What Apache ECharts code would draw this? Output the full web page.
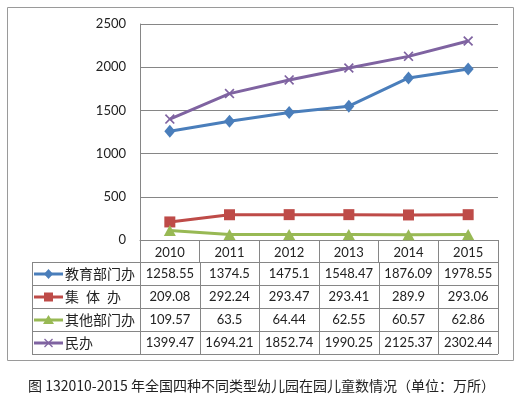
<!DOCTYPE html>
<html>
<head>
<meta charset="utf-8">
<script src="https://cdn.jsdelivr.net/npm/echarts@6/dist/echarts.min.js"></script>
<style>
  html, body { margin: 0; padding: 0; background: #fff; }
  #main { width: 523px; height: 396px; }
</style>
</head>
<body>
<div id="main"></div>
<script>
// 数据
var years = ['2010', '2011', '2012', '2013', '2014', '2015'];
var seriesNames = ['教育部门办', '集\u2002体\u2002办', '其他部门办', '民办'];
var eduData = [1258.55, 1374.5, 1475.1, 1548.47, 1876.09, 1978.55];
var collectiveData = [209.08, 292.24, 293.47, 293.41, 289.9, 293.06];
var otherData = [109.57, 63.5, 64.44, 62.55, 60.57, 62.86];
var privateData = [1399.47, 1694.21, 1852.74, 1990.25, 2125.37, 2302.44];
var yMax = 2500;
var yStep = 500;
var caption = '图 132010-2015 年全国四种不同类型幼儿园在园儿童数情况（单位：万所）';

var colors = ['#4A7EBB', '#BE4B48', '#98B954', '#7F63A1'];
var allData = [eduData, collectiveData, otherData, privateData];
var crossPath = 'path://M0,1.2L1.2,0L5,3.8L8.8,0L10,1.2L6.2,5L10,8.8L8.8,10L5,6.2L1.2,10L0,8.8L3.8,5Z';
var symbols = ['diamond', 'rect', 'triangle', crossPath];
var symbolSizes = [[11, 13], 11, [12, 11], 10];

// 版面
var gridL = 140, gridR = 498, gridT = 24, gridB = 240;
var tableL = 32, rowTop = 262, rowH = 23;
var lineCol = '#868686';
var fontNum = '13px Lato, "Noto Sans CJK SC", sans-serif';
var fontCn = '14px "Noto Sans CJK SC", sans-serif';

var myChart = echarts.init(document.getElementById('main'));

var graphics = [];
// 外框
graphics.push({type: 'rect', shape: {x: 7.5, y: 7.5, width: 506, height: 353},
  style: {fill: 'none', stroke: '#9a9a9a', lineWidth: 1}, silent: true});

var colW = (gridR - gridL) / years.length;
var tableB = rowTop + rowH * seriesNames.length;
// 横线
for (var r = 0; r <= seriesNames.length; r++) {
  var y = rowTop + r * rowH + 0.5;
  graphics.push({type: 'line', shape: {x1: tableL, y1: y, x2: gridR, y2: y},
    style: {stroke: lineCol, lineWidth: 1}, silent: true});
}
// 竖线
graphics.push({type: 'line', shape: {x1: tableL + 0.5, y1: rowTop, x2: tableL + 0.5, y2: tableB},
  style: {stroke: lineCol, lineWidth: 1}, silent: true});
for (var c = 0; c <= years.length; c++) {
  var x = Math.round(gridL + c * colW) + 0.5;
  graphics.push({type: 'line', shape: {x1: x, y1: rowTop, x2: x, y2: tableB},
    style: {stroke: lineCol, lineWidth: 1}, silent: true});
}
// 表格内容
for (var i = 0; i < seriesNames.length; i++) {
  var cy = rowTop + i * rowH + rowH / 2 + 0.5;
  var col = colors[i];
  graphics.push({type: 'line', shape: {x1: 34, y1: cy, x2: 63, y2: cy},
    style: {stroke: col, lineWidth: 3}, silent: true});
  var mx = 48.5;
  if (i === 0) {
    graphics.push({type: 'polygon', shape: {points: [[mx, cy - 5], [mx + 4.5, cy], [mx, cy + 5], [mx - 4.5, cy]]},
      style: {fill: col}, silent: true});
  } else if (i === 1) {
    graphics.push({type: 'rect', shape: {x: mx - 4.5, y: cy - 4.5, width: 9, height: 9},
      style: {fill: col}, silent: true});
  } else if (i === 2) {
    graphics.push({type: 'polygon', shape: {points: [[mx, cy - 5], [mx + 5.5, cy + 4], [mx - 5.5, cy + 4]]},
      style: {fill: col}, silent: true});
  } else {
    graphics.push({type: 'line', shape: {x1: mx - 4, y1: cy - 4, x2: mx + 4, y2: cy + 4},
      style: {stroke: col, lineWidth: 1.3}, silent: true});
    graphics.push({type: 'line', shape: {x1: mx + 4, y1: cy - 4, x2: mx - 4, y2: cy + 4},
      style: {stroke: col, lineWidth: 1.3}, silent: true});
  }
  graphics.push({type: 'text', style: {text: seriesNames[i], x: 65, y: cy,
    textAlign: 'left', textVerticalAlign: 'middle', font: fontCn, fill: '#222'}, silent: true});
  for (var j = 0; j < years.length; j++) {
    graphics.push({type: 'text', style: {text: String(allData[i][j]),
      x: gridL + (j + 0.5) * colW, y: cy,
      textAlign: 'center', textVerticalAlign: 'middle', font: fontNum, fill: '#222'}, silent: true});
  }
}

var series = [];
for (var k = 0; k < seriesNames.length; k++) {
  series.push({
    name: seriesNames[k],
    type: 'line',
    data: allData[k],
    symbol: symbols[k],
    symbolSize: symbolSizes[k],
    showAllSymbol: true,
    lineStyle: {color: colors[k], width: 3},
    itemStyle: {color: colors[k]},
    z: k === 2 ? 3 : 2,
    animation: false
  });
}

myChart.setOption({
  animation: false,
  title: {
    text: caption,
    left: 'center',
    top: 374,
    textStyle: {fontFamily: '"Noto Sans CJK SC", sans-serif', fontSize: 14, fontWeight: 'normal', color: '#222'}
  },
  grid: {left: gridL, right: 523 - gridR, top: gridT, bottom: 396 - gridB},
  xAxis: {
    type: 'category',
    data: years,
    boundaryGap: true,
    axisLine: {lineStyle: {color: lineCol, width: 1}},
    axisTick: {show: true, length: 22, lineStyle: {color: lineCol}},
    axisLabel: {margin: 6, fontSize: 13, fontFamily: 'Lato, sans-serif', color: '#222'},
    splitLine: {show: false}
  },
  yAxis: {
    type: 'value',
    min: 0,
    max: yMax,
    interval: yStep,
    axisLine: {show: true, lineStyle: {color: lineCol, width: 1}},
    axisTick: {show: false},
    axisLabel: {margin: 14, fontSize: 13, fontFamily: 'Lato, sans-serif', color: '#222',
      formatter: function (v) { return String(v); }},
    splitLine: {lineStyle: {color: lineCol, width: 1}}
  },
  series: series,
  graphic: graphics
});
</script>
</body>
</html>
